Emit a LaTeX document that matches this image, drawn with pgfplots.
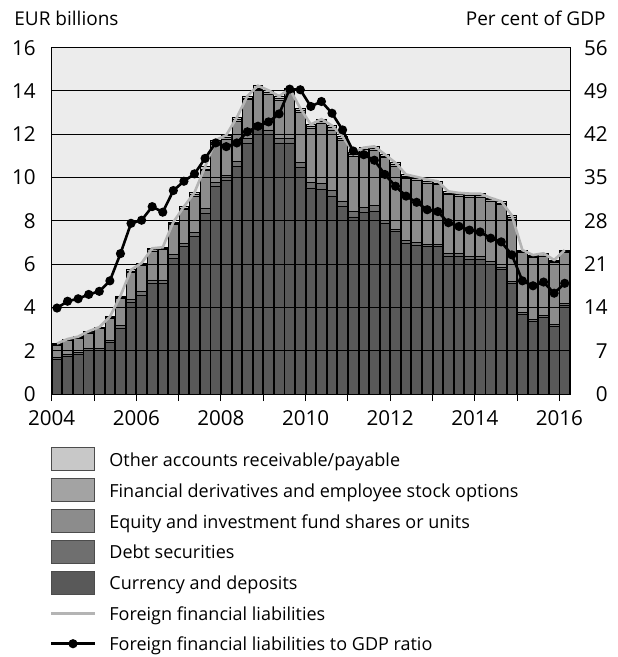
\documentclass[border=0pt]{standalone}
\usepackage{pgfplots}
\pgfplotsset{compat=1.18}
\usepackage{pgfplotstable}
\usepackage{fontspec}
\setmainfont{Open Sans}
\definecolor{bgc}{RGB}{236,236,236}
\definecolor{cCur}{RGB}{89,89,89}
\definecolor{cDebt}{RGB}{111,111,111}
\definecolor{cEq}{RGB}{140,140,140}
\definecolor{cDer}{RGB}{163,163,163}
\definecolor{cOth}{RGB}{200,200,200}
\definecolor{cLine}{RGB}{180,180,180}

\pgfplotstableread{
x C D E F O T R
2004.125 1.60 0.10 0.55 0.03 0.05 2.33 13.9
2004.375 1.74 0.10 0.62 0.03 0.05 2.54 15.0
2004.625 1.81 0.10 0.66 0.03 0.05 2.65 15.4
2004.875 2.02 0.10 0.70 0.03 0.05 2.90 16.1
2005.125 2.00 0.10 0.91 0.03 0.05 3.09 16.6
2005.375 2.39 0.10 1.00 0.03 0.05 3.57 18.3
2005.625 3.02 0.15 1.24 0.05 0.07 4.53 22.7
2005.875 4.22 0.15 1.25 0.05 0.07 5.74 27.6
2006.125 4.57 0.15 1.21 0.05 0.07 6.05 28.1
2006.375 5.12 0.15 1.34 0.05 0.07 6.73 30.3
2006.625 5.12 0.15 1.39 0.05 0.07 6.78 29.4
2006.875 6.28 0.15 1.39 0.05 0.07 7.94 32.9
2007.125 6.82 0.15 1.56 0.05 0.07 8.65 34.4
2007.375 7.26 0.22 1.65 0.08 0.10 9.31 35.6
2007.625 8.34 0.22 1.76 0.08 0.10 10.50 38.1
2007.875 9.57 0.22 1.76 0.08 0.10 11.73 40.6
2008.125 9.88 0.22 1.68 0.08 0.10 11.96 40.0
2008.375 10.53 0.22 1.84 0.08 0.10 12.77 40.6
2008.625 11.58 0.22 1.79 0.08 0.10 13.77 42.4
2008.875 12.27 0.22 1.57 0.08 0.10 14.24 43.3
2009.125 11.98 0.22 1.65 0.08 0.10 14.03 44.0
2009.375 11.60 0.22 1.76 0.08 0.10 13.76 45.3
2009.625 11.60 0.22 2.10 0.08 0.10 14.10 49.3
2009.875 10.48 0.22 2.32 0.08 0.10 13.20 49.2
2010.125 9.52 0.25 2.48 0.10 0.10 12.45 46.5
2010.375 9.46 0.25 2.79 0.10 0.10 12.70 47.3
2010.625 9.15 0.25 2.80 0.10 0.10 12.40 45.4
2010.875 8.67 0.25 2.78 0.10 0.10 11.90 42.7
2011.125 8.18 0.25 2.54 0.10 0.10 11.17 39.3
2011.375 8.38 0.25 2.55 0.10 0.10 11.38 38.7
2011.625 8.45 0.25 2.54 0.10 0.10 11.44 37.8
2011.875 7.89 0.12 2.90 0.08 0.08 11.07 35.5
2012.125 7.50 0.12 2.90 0.08 0.08 10.68 33.6
2012.375 6.96 0.12 2.90 0.08 0.08 10.14 32.0
2012.625 6.88 0.12 2.87 0.08 0.08 10.03 31.0
2012.875 6.81 0.12 2.82 0.08 0.08 9.91 29.8
2013.125 6.80 0.12 2.75 0.08 0.08 9.83 29.5
2013.375 6.37 0.12 2.71 0.08 0.08 9.36 27.7
2013.625 6.37 0.12 2.64 0.08 0.08 9.29 27.1
2013.875 6.22 0.12 2.76 0.08 0.08 9.26 26.5
2014.125 6.22 0.12 2.76 0.08 0.08 9.26 26.2
2014.375 5.99 0.12 2.79 0.08 0.08 9.06 25.2
2014.625 5.75 0.12 2.87 0.08 0.08 8.90 24.6
2014.875 5.10 0.12 2.87 0.08 0.08 8.25 22.5
2015.125 3.67 0.08 2.78 0.06 0.06 6.65 18.3
2015.375 3.36 0.08 2.86 0.06 0.06 6.42 17.5
2015.625 3.55 0.08 2.75 0.06 0.06 6.50 18.1
2015.875 3.12 0.08 2.87 0.06 0.06 6.19 16.3
2016.125 4.09 0.08 2.36 0.06 0.06 6.65 17.9
}\data

\pgfplotsset{
  swatch/.style={legend image code/.code={\draw[##1,draw=black!70,line width=0.4pt] (0pt,-5.85pt) rectangle (21.7pt,5.85pt);}},
  lline/.style={legend image code/.code={\draw[##1] (0pt,-0.2pt) -- (21.7pt,-0.2pt);}},
  mline/.style={legend image code/.code={\draw[##1] (0pt,-0.2pt) -- (21.7pt,-0.2pt); \fill[black] (10.85pt,-0.2pt) circle (1.6pt);}},
  commonax/.style={at={(0,0)}, anchor=south west, width=259.15pt, height=173.15pt,
    scale only axis, xmin=2004, xmax=2016.25,
    tick label style={font=\fontsize{10.3}{12}\selectfont},
    /pgf/number format/assume math mode=true},
}

\begin{document}
\begin{tikzpicture}
\useasboundingbox (-25.85pt,-131.5pt) rectangle (282.65pt,197pt);
\begin{axis}[commonax,
  ymin=0, ymax=16,
  axis background/.style={fill=bgc},
  axis on top,
  ytick={0,2,...,16},
  ymajorgrids, grid style={black, line width=0.5pt},
  xtick={2004,2005,2006,2007,2008,2009,2010,2011,2012,2013,2014,2015,2016},
  xticklabels={2004,,2006,,2008,,2010,,2012,,2014,,2016},
  ytick pos=left, xtick pos=bottom,
  tick align=outside, major tick length=3.5pt,
  y tick style={draw=none},
  x tick style={black, line width=0.5pt},
  axis line style={black, line width=0.5pt},
  yticklabel style={anchor=east, inner sep=0pt, xshift=-4.35pt},
  xticklabel style={anchor=north, inner sep=0pt, yshift=-4.5pt},
  ybar stacked, bar width=0.228,
  legend cell align=left,
  legend style={at={(0,0)}, anchor=north west, xshift=-0.85pt, yshift=-26.5pt,
    draw=none, fill=none, inner sep=0pt, outer sep=0pt,
    font=\fontsize{9}{11}\selectfont, row sep=3.35pt, column sep=6.7pt,
    nodes={inner sep=0pt, text height=9.4pt, text depth=2.3pt}},
]
\addlegendimage{swatch, fill=cOth}
\addlegendentry{Other accounts receivable/payable}
\addlegendimage{swatch, fill=cDer}
\addlegendentry{Financial derivatives and employee stock options}
\addlegendimage{swatch, fill=cEq}
\addlegendentry{Equity and investment fund shares or units}
\addlegendimage{swatch, fill=cDebt}
\addlegendentry{Debt securities}
\addlegendimage{swatch, fill=cCur}
\addlegendentry{Currency and deposits}
\addlegendimage{lline, draw=cLine, line width=1.3pt}
\addlegendentry{Foreign financial liabilities}
\addlegendimage{mline, draw=black, line width=1.3pt}
\addlegendentry{Foreign financial liabilities to GDP ratio}

\addplot[forget plot, fill=cCur, draw=black, line width=0.4pt] table[x=x,y=C]{\data};
\addplot[forget plot, fill=cDebt, draw=black, line width=0.4pt] table[x=x,y=D]{\data};
\addplot[forget plot, fill=cEq, draw=black, line width=0.4pt] table[x=x,y=E]{\data};
\addplot[forget plot, fill=cDer, draw=black, line width=0.4pt] table[x=x,y=F]{\data};
\addplot[forget plot, fill=cOth, draw=black, line width=0.4pt] table[x=x,y=O]{\data};
\end{axis}

\begin{axis}[commonax, ymin=0, ymax=16, hide axis]
\addplot[cLine, line width=1.3pt, no marks] table[x=x,y=T]{\data};
\end{axis}

\begin{axis}[commonax, ymin=0, ymax=56, ytick={0,7,...,56},
  axis x line=none, axis y line*=right, axis line style={draw=none},
  y tick style={draw=none},
  yticklabel style={anchor=east, inner sep=0pt, xshift=19pt}]
\addplot[black, line width=1.3pt, mark=*, mark size=1.6pt] table[x=x,y=R]{\data};
\end{axis}

\node[anchor=base west, inner sep=0pt, font=\fontsize{9.5}{11}\selectfont] at (-18.85pt,184.15pt) {EUR billions};
\node[anchor=base east, inner sep=0pt, font=\fontsize{9.5}{11}\selectfont] at (277.15pt,184.15pt) {Per cent of GDP};
\end{tikzpicture}
\end{document}
